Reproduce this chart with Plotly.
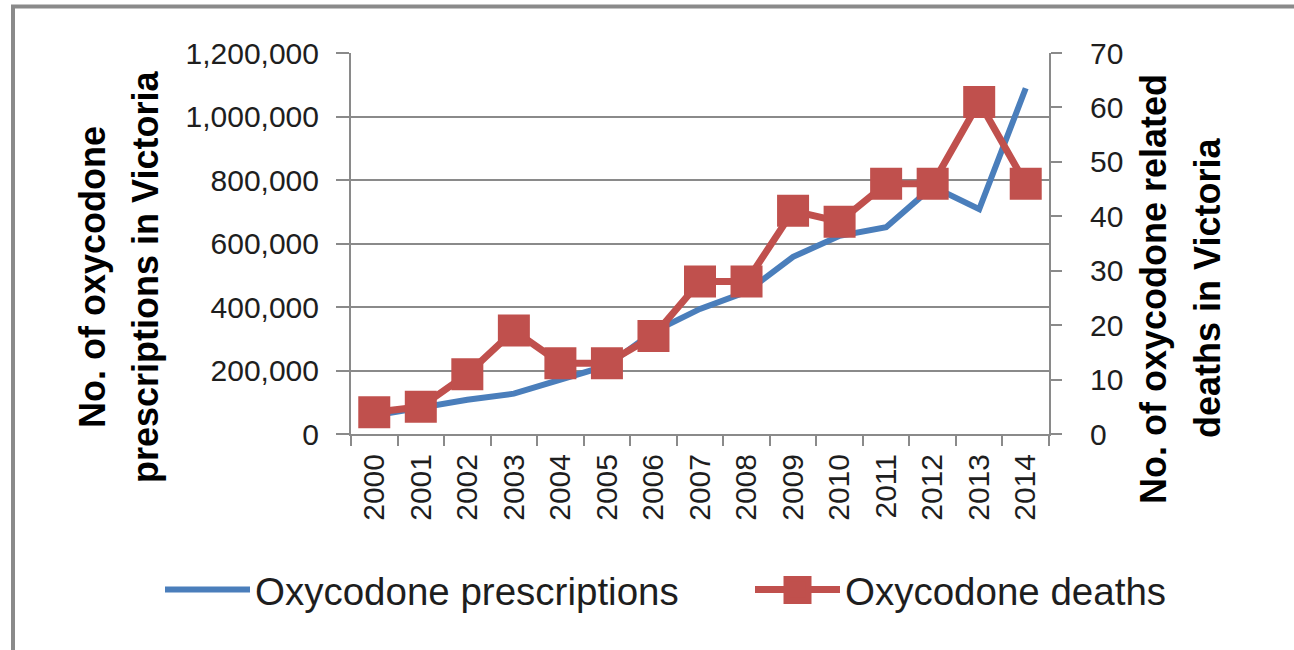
import plotly.graph_objects as go

years = [str(y) for y in range(2000, 2015)]
prescriptions = [58000, 85000, 108000, 127000, 173000, 215000, 322000, 394000,
                 448000, 558000, 624000, 651000, 779000, 708000, 1089000]
deaths = [4, 5, 11, 19, 13, 13, 18, 28, 28, 41, 39, 46, 46, 61, 46]
left_ticks = [0, 200000, 400000, 600000, 800000, 1000000, 1200000]
right_ticks = [0, 10, 20, 30, 40, 50, 60, 70]

W, H = 1294, 650
L, R, T, B = 351, 1049, 53, 434  # plot area in pixels


def px(x):
    return (x - L) / (R - L)


def py(y):
    return (B - y) / (B - T)


FONT = "Liberation Sans, Arial, sans-serif"
GRAY = "#8a8a8a"
BLUE = "#4a7ebb"
RED = "#c0504d"
TXT = "#1e1e1e"

fig = go.Figure()
fig.add_trace(go.Scatter(x=years, y=prescriptions, name="Oxycodone prescriptions",
                         mode="lines", line=dict(color=BLUE, width=6),
                         yaxis="y", legend="legend"))
fig.add_trace(go.Scatter(x=years, y=deaths, name="Oxycodone deaths",
                         mode="lines+markers", line=dict(color=RED, width=7),
                         marker=dict(symbol="square", size=32, color=RED,
                                     line=dict(width=0)),
                         yaxis="y2", legend="legend2"))

leg_common = dict(orientation="h", xanchor="left", yanchor="middle",
                  font=dict(size=38.5, color=TXT, family=FONT), itemwidth=85,
                  bgcolor="rgba(0,0,0,0)", itemsizing="trace",
                  xref="container", yref="container")

fig.update_layout(
    width=W, height=H,
    margin=dict(l=L, r=W - R, t=T, b=H - B, pad=0, autoexpand=False),
    paper_bgcolor="white", plot_bgcolor="white",
    font=dict(family=FONT, size=30, color=TXT),
    xaxis=dict(type="category", categoryorder="array", categoryarray=years,
               range=[-0.5, len(years) - 0.5],
               tickangle=-90, showline=True, linecolor=GRAY, linewidth=2,
               ticks="outside", ticklen=10, tickcolor=GRAY, tickwidth=2,
               tickson="boundaries", showgrid=False, zeroline=False,
               tickfont=dict(size=30, color=TXT), ticklabelstandoff=6),
    yaxis=dict(range=[0, 1200000], tickvals=left_ticks, tickformat=",d",
               showgrid=True, gridcolor=GRAY, gridwidth=2,
               showline=True, linecolor=GRAY, linewidth=2,
               ticks="outside", ticklen=13, tickcolor=GRAY, tickwidth=2,
               zeroline=False, tickfont=dict(size=30, color=TXT),
               ticklabelstandoff=11),
    yaxis2=dict(range=[0, 70], tickvals=right_ticks, overlaying="y", side="right",
                showgrid=False, showline=True, linecolor=GRAY, linewidth=2,
                ticks="outside", ticklen=11, tickcolor=GRAY, tickwidth=2,
                zeroline=False, tickfont=dict(size=30, color=TXT),
                ticklabelstandoff=22),
    showlegend=True,
    legend=dict(x=160 / W, y=1 - 590 / H, **leg_common),
    legend2=dict(x=750 / W, y=1 - 590 / H, **leg_common),
    shapes=[
        dict(type="rect", xref="paper", yref="paper",
             x0=px(13), x1=px(1310), y0=py(6.5), y1=py(670),
             line=dict(color=GRAY, width=4), fillcolor="rgba(0,0,0,0)",
             layer="below"),
        # enlarged legend square behind the legend symbol of the deaths series
        dict(type="rect", xref="paper", yref="paper",
             x0=px(783.5), x1=px(811.5), y0=py(576), y1=py(604),
             line=dict(width=0), fillcolor=RED, layer="below"),
    ],
)

title_font = dict(family=FONT, size=36, color="black", weight="bold")
titles = [
    ("No. of oxycodone", 92, 277),
    ("prescriptions in Victoria", 145, 277),
    ("No. of oxycodone related", 1153, 289),
    ("deaths in Victoria", 1207, 288),
]
for text, x, y in titles:
    fig.add_annotation(text="<b>%s</b>" % text, xref="paper", yref="paper",
                       x=px(x), y=py(y), xanchor="center", yanchor="middle",
                       textangle=-90, showarrow=False, font=title_font)

fig.write_html("out.html", config={"displayModeBar": False},
               post_script="document.body.style.margin='0px';")
